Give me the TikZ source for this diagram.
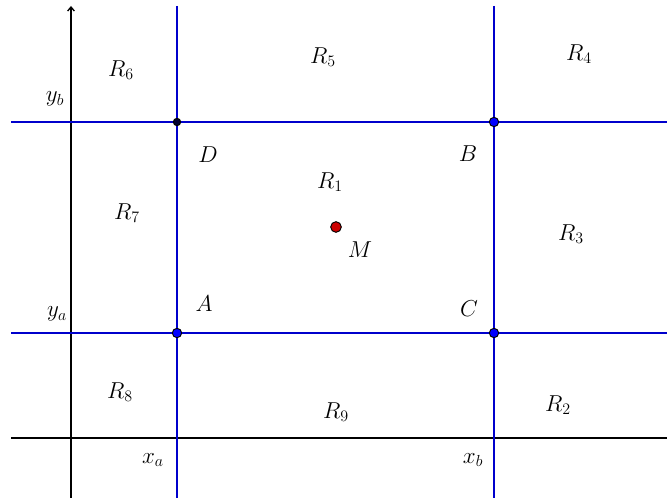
\documentclass[tikz,border=0pt]{standalone}
\usetikzlibrary{arrows.meta}
\definecolor{lineblue}{RGB}{0,0,204}
\definecolor{ptred}{RGB}{204,0,0}
\tikzset{axis/.style={draw=black,line width=1pt},
  bound/.style={draw=lineblue,line width=1.2pt},
  vertex/.style={circle,draw=black,fill=blue,line width=0.7pt,inner sep=0pt,minimum size=7pt},
  lab/.style={font=\fontsize{18}{22}\selectfont}}

\begin{document}
\begin{tikzpicture}[x=0.75pt,y=-0.75pt]
  \useasboundingbox (0,0) rectangle (667,498);
  % axes
  \coordinate (xl) at (11,438);  \coordinate (xr) at (667,438);
  \coordinate (yd) at (71,498);  \coordinate (yu) at (71,6);
  \draw[axis] (xl) -- (xr);
  \draw[axis,-{Straight Barb[length=3pt,width=5pt]}] (yd) -- (yu);
  % the two pairs of lines
  \draw[bound] (177,6) -- (177,498);
  \draw[bound] (494,6) -- (494,498);
  \draw[bound] (11,122) -- (667,122);
  \draw[bound] (11,333) -- (667,333);
  % corners and M
  \node[vertex,minimum size=5.5pt,fill=black!80!blue] (D) at (177,122) {};
  \node[vertex] (B) at (494,122) {};
  \node[vertex] (A) at (177,333) {};
  \node[vertex] (C) at (494,333) {};
  \node[vertex,fill=ptred,minimum size=8pt] (M) at (336,227) {};
  \node[lab] (lD) at (208,155) {$D$};
  \node[lab] (lB) at (468,154) {$B$};
  \node[lab] (lA) at (204,304) {$A$};
  \node[lab] (lC) at (469,309) {$C$};
  \node[lab] (lM) at (360,250) {$M$};
  % regions
  \node[lab] (r1) at (330,182) {$R_1$};
  \node[lab] (r2) at (558,405) {$R_2$};
  \node[lab] (r3) at (571,234) {$R_3$};
  \node[lab] (r4) at (579,54) {$R_4$};
  \node[lab] (r5) at (323,57) {$R_5$};
  \node[lab] (r6) at (121,70) {$R_6$};
  \node[lab] (r7) at (127,213) {$R_7$};
  \node[lab] (r8) at (120,392) {$R_8$};
  \node[lab] (r9) at (336,412) {$R_9$};
  % ticks on the axes
  \node[lab] (ya) at (57,314) {$y_a$};
  \node[lab] (yb) at (55,99) {$y_b$};
  \node[lab] (xa) at (153,460) {$x_a$};
  \node[lab] (xb) at (473,460) {$x_b$};
\end{tikzpicture}
\end{document}
